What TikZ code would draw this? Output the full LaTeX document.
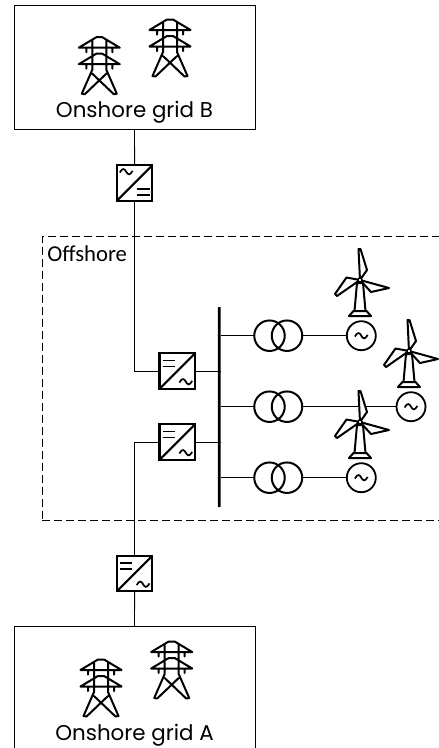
\documentclass[tikz,border=0pt]{standalone}
\usepackage{fontspec}
\usepackage{tikz}
\usetikzlibrary{positioning,shapes,arrows}
\newfontfamily\gridfont{Poppins}
\newfontfamily\zonefont{Carlito}

\begin{document}
\begin{tikzpicture}[x=1pt, y=-1pt, every node/.style={inner sep=0pt, outer sep=0pt},
    gridbox/.style={rectangle, draw, line width=0.9pt, minimum width=241pt, minimum height=124pt},
    zonebox/.style={rectangle, draw, densely dashed, dash pattern=on 8pt off 4pt, line width=0.8pt, minimum width=405pt, minimum height=283.6pt},
    convbox/.style={rectangle, draw, line width=2.2pt, fill=white, minimum size=35.5pt},
    trafo/.style={circle, draw, line width=2pt, minimum size=30.5pt},
    gen/.style={circle, draw, line width=1.8pt, minimum size=29pt},
    busbar/.style={rectangle, fill=black, rounded corners=0.5pt, minimum width=2.8pt, minimum height=200pt},
    gridlabel/.style={anchor=base, font=\gridfont\fontsize{21.4}{24}\selectfont},
    tildesym/.pic={\draw[line width=1.7pt] (-6.4,0.8) .. controls (-3.5,-4.5) and (-1.5,-2.8) .. (0,0) .. controls (1.5,2.8) and (3.5,4.5) .. (6.4,-0.8);},
    acdc/.pic={
        \draw[line width=2.2pt] (-17.7,17.7) -- (17.7,-17.7);
        \pic at (-8.4,-11.3) {tildesym};
        \draw[line width=1.5pt] (2,6) -- (15,6) (2,12) -- (15,12);
    },
    dcac/.pic={
        \draw[line width=2.2pt] (-17.7,17.7) -- (17.7,-17.7);
        \draw[line width=1.5pt] (-14.7,-10.3) -- (-2.7,-10.3) (-14.7,-4.3) -- (-2.7,-4.3);
        \pic at (8.5,10.7) {tildesym};
    },
    pylon/.pic={
        \draw[line width=2pt, line cap=round, line join=round]
            (-20.5,11) -- (-3,0.5) -- (3,0.5) -- (20.5,11) -- cycle
            (-20.5,27.5) -- (-3,17) -- (3,17) -- (20.5,27.5) -- cycle
            (-13,11) -- (-13,15.5) (13,11) -- (13,15.5)
            (-13,27.5) -- (-13,32) (13,27.5) -- (13,32)
            (-7,4) -- (-7,33) -- (-17.5,57) -- (-14.5,57.5) -- (7,37)
            (7,4) -- (7,33) -- (17.5,57) -- (14.5,57.5) -- (-7,37);
    },
    turbine/.pic={
        \draw[line width=2pt, line join=round, fill=white]
            (-3,3) -- (-5.5,31) -- (5.5,31) -- (3,3) -- cycle
            (-6.5,31) -- (-11,36) -- (11,36) -- (6.5,31) -- cycle;
        \draw[line width=2pt, line join=round, fill=white]
            (0,0) -- (-1.5,-31) -- (0.5,-31) -- (7,-10) -- cycle
            (0,0) -- (-13.5,-2.5) -- (-25,14) -- (-23,16) -- cycle
            (0,0) -- (29,8) -- (11,12) -- cycle;
        \draw[line width=1.4pt, fill=white] (0,0) circle (2pt);
    }]
    \useasboundingbox (0,0) rectangle (439,748);

    % Onshore grids
    \node[gridbox] (gridb) at (134.5,67.3) {};
    \node[gridbox, minimum height=130pt] (grida) at (134.5,691.7) {};
    \node[gridlabel] (labelb) at (134.5,117) {Onshore grid B};
    \node[gridlabel] (labela) at (134.5,740) {Onshore grid A};
    \pic at (99.3,36.7) {pylon};
    \pic at (170,19) {pylon};
    \pic at (101,659) {pylon};
    \pic at (171.7,641) {pylon};

    % Offshore zone
    \node[zonebox] (offshore) at (244.8,378.5) {};
    \node[anchor=base west, font=\zonefont\fontsize{22.7}{26}\selectfont] (zonelabel) at (47.3,261.7) {Offshore};

    % Converters
    \node[convbox] (convb) at (134.6,183) {};
    \node[convbox] (conva) at (134.6,573.5) {};
    \node[convbox] (conv1) at (177.3,371) {};
    \node[convbox] (conv2) at (177.3,442) {};

    % Busbar, transformers and generators
    \node[busbar] (bus) at (219.3,407) {};
    \node[trafo] (t1a) at (269.5,335.7) {};
    \node[trafo] (t1b) at (287,335.7) {};
    \node[trafo] (t2a) at (269.5,406.7) {};
    \node[trafo] (t2b) at (287,406.7) {};
    \node[trafo] (t3a) at (269.5,477.7) {};
    \node[trafo] (t3b) at (287,477.7) {};
    \node[gen] (g1) at (361.3,335.7) {};
    \node[gen] (g2) at (411,406.7) {};
    \node[gen] (g3) at (361.3,477.7) {};

    % Connections
    \draw[line width=0.9pt] (gridb.south) -- (convb.north);
    \draw[line width=0.9pt] (convb.south) |- (conv1.west);
    \draw[line width=0.9pt] (grida.north) -- (conva.south);
    \draw[line width=0.9pt] (conva.north) |- (conv2.west);
    \draw[line width=0.9pt] (conv1.east) -- (conv1.east -| bus.east);
    \draw[line width=0.9pt] (conv2.east) -- (conv2.east -| bus.east);
    \draw[line width=0.9pt] (t1a.west) -- (t1a.west -| bus.east);
    \draw[line width=0.9pt] (t2a.west) -- (t2a.west -| bus.east);
    \draw[line width=0.9pt] (t3a.west) -- (t3a.west -| bus.east);
    \draw[line width=0.9pt] (t1b.east) -- (g1.west);
    \draw[line width=0.9pt] (t2b.east) -- (g2.west);
    \draw[line width=0.9pt] (t3b.east) -- (g3.west);

    % Symbols
    \pic at (convb) {acdc};
    \pic at (conva) {dcac};
    \pic at (conv1) {dcac};
    \pic at (conv2) {dcac};
    \pic at (g1) {tildesym};
    \pic at (g2) {tildesym};
    \pic at (g3) {tildesym};

    % Wind turbines
    \pic at (360,280) {turbine};
    \pic at (409,351) {turbine};
    \pic at (360,422) {turbine};
\end{tikzpicture}
\end{document}
